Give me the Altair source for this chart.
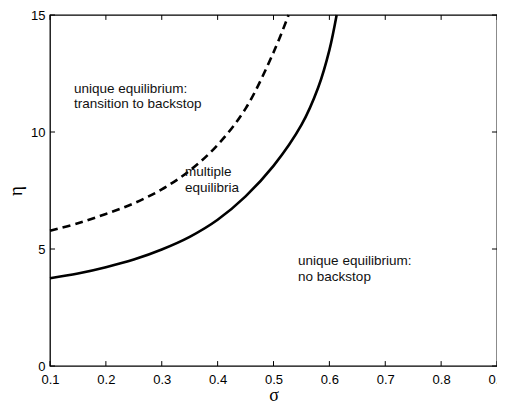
import altair as alt
import pandas as pd

# solid boundary
solid_sigma = [0.10, 0.15, 0.20, 0.25, 0.30, 0.35, 0.40, 0.45, 0.50, 0.55, 0.58, 0.60, 0.613]
solid_eta = [3.75, 3.95, 4.22, 4.55, 4.98, 5.52, 6.25, 7.25, 8.55, 10.3, 11.9, 13.5, 15.0]

# dashed boundary
dash_sigma = [0.10, 0.15, 0.20, 0.25, 0.30, 0.35, 0.40, 0.45, 0.50, 0.527]
dash_eta = [5.78, 6.10, 6.50, 6.95, 7.55, 8.35, 9.45, 11.0, 13.4, 15.0]

# region labels (one entry per line)
label_text = ["unique equilibrium:", "transition to backstop", "multiple", "equilibria",
              "unique equilibrium:", "no backstop"]
label_sigma = [0.143, 0.143, 0.3415, 0.3415, 0.544, 0.544]
label_eta = [11.83, 11.18, 8.27, 7.62, 4.47, 3.82]

x_ticks = [0.1, 0.2, 0.3, 0.4, 0.5, 0.6, 0.7, 0.8, 0.9]
y_ticks = [0, 5, 10, 15]

X_DOM = [0.1, 0.9]
Y_DOM = [0, 15]

solid = pd.DataFrame({"sigma": solid_sigma, "eta": solid_eta})
dashed = pd.DataFrame({"sigma": dash_sigma, "eta": dash_eta})
labels = pd.DataFrame({"sigma": label_sigma, "eta": label_eta, "text": label_text})

xs = alt.Scale(domain=X_DOM, nice=False, zero=False)
ys = alt.Scale(domain=Y_DOM, nice=False, zero=False)

xaxis = alt.Axis(values=x_ticks, format=".1f", tickSize=0, domain=False, grid=False,
                 labelFont="Liberation Sans", labelFontSize=13, labelColor="black",
                 labelPadding=7, title="σ", titleFont="Liberation Serif",
                 titleFontSize=18, titleFontWeight="normal", titleColor="black",
                 titleBaseline="alphabetic", titlePadding=14, labelFlush=False)
yaxis = alt.Axis(values=y_ticks, tickSize=0, domain=False, grid=False,
                 labelFont="Liberation Sans", labelFontSize=13, labelColor="black",
                 labelPadding=5, title="η", titleFont="Liberation Serif",
                 titleFontSize=19, titleFontWeight="normal", titleColor="black",
                 titlePadding=5, labelFlush=False)

solid_line = alt.Chart(solid).mark_line(color="black", strokeWidth=2.6, interpolate="catmull-rom").encode(
    x=alt.X("sigma:Q", scale=xs, axis=xaxis),
    y=alt.Y("eta:Q", scale=ys, axis=yaxis),
)
dashed_line = alt.Chart(dashed).mark_line(color="black", strokeWidth=2.6, strokeDash=[8, 5],
                                          interpolate="catmull-rom").encode(
    x=alt.X("sigma:Q", scale=xs),
    y=alt.Y("eta:Q", scale=ys),
)
text = alt.Chart(labels).mark_text(align="left", baseline="middle", font="Liberation Sans",
                                   fontSize=13.5, color="#111").encode(
    x=alt.X("sigma:Q", scale=xs),
    y=alt.Y("eta:Q", scale=ys),
    text="text:N",
)

xt = pd.DataFrame({"t": x_ticks})
yt = pd.DataFrame({"t": y_ticks})
tick_len_y = 0.21
tick_len_x = 0.009
bottom_ticks = alt.Chart(xt).mark_rule(color="black", strokeWidth=1).encode(
    x=alt.X("t:Q", scale=xs), y=alt.datum(Y_DOM[0]), y2=alt.datum(Y_DOM[0] + tick_len_y))
top_ticks = alt.Chart(xt).mark_rule(color="black", strokeWidth=1).encode(
    x=alt.X("t:Q", scale=xs), y=alt.datum(Y_DOM[1]), y2=alt.datum(Y_DOM[1] - tick_len_y))
left_ticks = alt.Chart(yt).mark_rule(color="black", strokeWidth=1).encode(
    y=alt.Y("t:Q", scale=ys), x=alt.datum(X_DOM[0]), x2=alt.datum(X_DOM[0] + tick_len_x))
right_ticks = alt.Chart(yt).mark_rule(color="black", strokeWidth=1).encode(
    y=alt.Y("t:Q", scale=ys), x=alt.datum(X_DOM[1]), x2=alt.datum(X_DOM[1] - tick_len_x))

chart = alt.layer(solid_line, dashed_line, text, bottom_ticks, top_ticks, left_ticks, right_ticks).properties(
    width=447, height=351,
    autosize=alt.AutoSizeParams(type="none"),
    padding={"left": 42, "top": 7, "right": 0, "bottom": 37},
    background="white",
).configure_view(stroke="black", strokeWidth=1.3)

chart.save("out.html", embed_options={"renderer": "svg", "actions": False})
